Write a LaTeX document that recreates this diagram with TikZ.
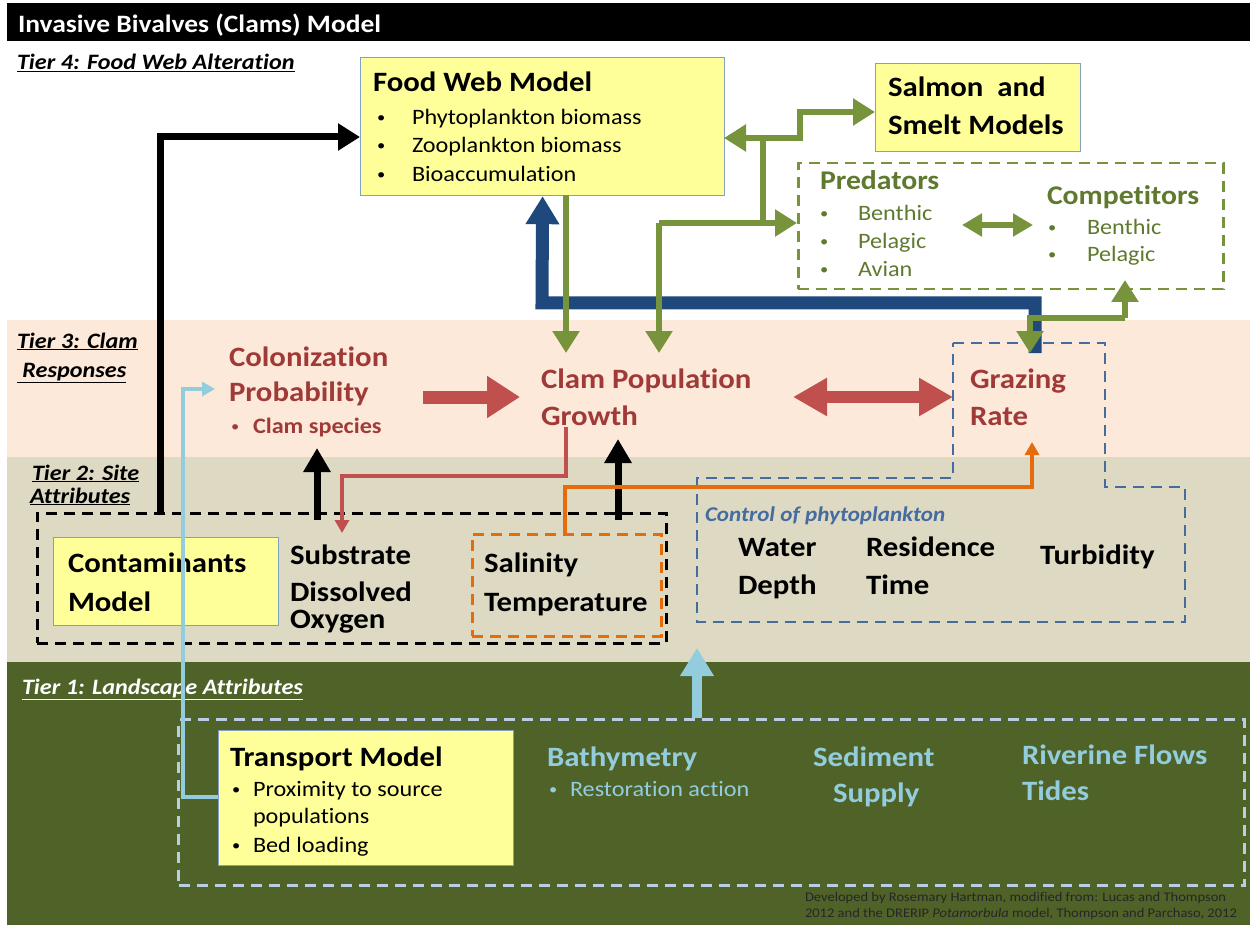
\documentclass[tikz,border=0pt]{standalone}
\usepackage{fontspec}
\setmainfont[FakeStretch=1.1, Ligatures=NoCommon]{Carlito}
\usetikzlibrary{arrows.meta}
\definecolor{boxyellow}{RGB}{255,255,153}
\definecolor{boxedge}{RGB}{130,160,195}
\definecolor{tierpink}{RGB}{253,233,217}
\definecolor{tiertan}{RGB}{221,217,195}
\definecolor{tiergreen}{RGB}{79,98,40}
\definecolor{cgreen}{RGB}{119,147,60}
\definecolor{gtext}{RGB}{95,122,46}
\definecolor{rtext}{RGB}{160,58,56}
\definecolor{rarrow}{RGB}{192,80,77}
\definecolor{navy}{RGB}{31,73,125}
\definecolor{bdash}{RGB}{68,108,160}
\definecolor{lblue}{RGB}{147,205,221}
\definecolor{lbdash}{RGB}{185,205,229}
\definecolor{corange}{RGB}{228,108,10}
\newcommand{\bul}{\raisebox{2pt}{\fontsize{15}{16}\selectfont •}}
\begin{document}
\begin{tikzpicture}[x=1pt,y=-1pt,
  lbl/.style={anchor=base west, inner sep=0pt, outer sep=0pt},
  hb/.style={lbl, font=\fontsize{28}{30}\selectfont\bfseries},
  hm/.style={lbl, font=\fontsize{27}{30}\selectfont\bfseries},
  bt/.style={lbl, font=\fontsize{22}{24}\selectfont},
  tierlbl/.style={lbl, font=\fontsize{22}{24}\selectfont\bfseries\itshape},
  ybox/.style={draw=boxedge, fill=boxyellow, line width=1.2pt, inner sep=0pt, anchor=north west},
  dbox/.style={line width=2.5pt, dash pattern=on 11pt off 7pt, inner sep=0pt, anchor=north west},
  gline/.style={draw=cgreen, line width=6pt},
  gtip/.style={-{Triangle[length=22pt,width=26pt]}},
  btip/.style={-{Triangle[length=24pt,width=26pt]}},
  thin/.style={line width=3.5pt},
  smalltip/.style={-{Triangle[length=13pt,width=14pt]}},
]
\useasboundingbox (0,0) rectangle (1250,925);
\fill[white] (0,0) rectangle (1250,925);
% bands
\fill[black] (7,3) rectangle (1250,41);
\fill[tierpink] (7,320) rectangle (1250,457);
\fill[tiertan] (7,457) rectangle (1250,662);
\fill[tiergreen] (7,662) rectangle (1250,925);

\node[lbl, text=white, font=\fontsize{25}{28}\selectfont\bfseries] (title) at (18,33) {Invasive Bivalves (Clams) Model};

% tier labels
\node[tierlbl] (t4) at (17,70) {\underline{Tier 4: Food Web Alteration}};
\node[tierlbl] (t3a) at (17,348) {\underline{Tier 3: Clam}};
\node[tierlbl] (t3b) at (17,377) {\underline{\ Responses}};
\node[tierlbl] (t2a) at (32,480) {\underline{Tier 2: Site}};
\node[tierlbl] (t2b) at (30,503) {\underline{Attributes}};
\node[tierlbl, text=white] (t1) at (22,694) {\underline{Tier 1: Landscape Attributes}};

% Food web model box
\node[ybox, minimum width=364pt, minimum height=138pt] (foodweb) at (360,57) {};
\node[hb] (fwt) at (373,92) {Food Web Model};
\node[bt] (fwb1) at (377,125) {\bul};
\node[bt] (fw1) at (412,125) {Phytoplankton biomass};
\node[bt] (fwb2) at (377,153) {\bul};
\node[bt] (fw2) at (412,153) {Zooplankton biomass};
\node[bt] (fwb3) at (377,182) {\bul};
\node[bt] (fw3) at (412,182) {Bioaccumulation};

% Salmon box
\node[ybox, minimum width=205pt, minimum height=88pt] (salmon) at (875,63) {};
\node[hb] (sal1) at (888,97) {Salmon\ \ and};
\node[hb] (sal2) at (888,135) {Smelt Models};

% Predators / competitors
\node[dbox, draw=cgreen, minimum width=425pt, minimum height=126pt] (predbox) at (797,162) {};
\node[hm, text=gtext] (pred) at (820,190) {Predators};
\node[bt, text=gtext] (pb1) at (820,221) {\bul};
\node[bt, text=gtext] (p1) at (858,221) {Benthic};
\node[bt, text=gtext] (pb2) at (820,249) {\bul};
\node[bt, text=gtext] (p2) at (858,249) {Pelagic};
\node[bt, text=gtext] (pb3) at (820,277) {\bul};
\node[bt, text=gtext] (p3) at (858,277) {Avian};
\node[hm, text=gtext] (comp) at (1047,205) {Competitors};
\node[bt, text=gtext] (cb1) at (1048,235) {\bul};
\node[bt, text=gtext] (c1) at (1087,235) {Benthic};
\node[bt, text=gtext] (cb2) at (1048,262) {\bul};
\node[bt, text=gtext] (c2) at (1087,262) {Pelagic};

% Tier 3
\node[hb, text=rtext] (col1) at (229,366) {Colonization};
\node[hb, text=rtext] (col2) at (229,401) {Probability};
\node[bt, text=rtext] (colb) at (231,433) {\bul};
\node[bt, text=rtext, font=\fontsize{22}{24}\selectfont\bfseries] (col3) at (253,433) {Clam species};
\node[hb, text=rtext] (cpg1) at (541,388) {Clam Population};
\node[hb, text=rtext] (cpg2) at (541,425) {Growth};
\node[hb, text=rtext] (gr1) at (970,388) {Grazing};
\node[hb, text=rtext] (gr2) at (970,425) {Rate};

% Tier 2
\node[dbox, draw=black, minimum width=629pt, minimum height=130pt] (sitebox) at (36,512) {};
\node[ybox, minimum width=225pt, minimum height=88pt] (contam) at (53,537) {};
\node[hb] (con1) at (68,572) {Contaminants};
\node[hb] (con2) at (68,611) {Model};
\node[hb] (sub1) at (290,564) {Substrate};
\node[hb] (sub2) at (290,601) {Dissolved};
\node[hb] (sub3) at (290,628) {Oxygen};
\node[dbox, draw=corange, minimum width=189pt, minimum height=102pt] (salbox) at (471,533) {};
\node[hb] (sal3) at (484,572) {Salinity};
\node[hb] (sal4) at (484,611) {Temperature};
\draw[bdash, line width=2.5pt, dash pattern=on 11pt off 7pt] (953,343) -- (1105,343) -- (1105,487) -- (1185,487) -- (1185,622) -- (697,622) -- (697,478) -- (953,478) -- cycle;
\node[lbl, text=bdash, font=\fontsize{21}{24}\selectfont\bfseries\itshape] (ctrl) at (705,521) {Control of phytoplankton};
\node[hb] (wd1) at (738,556) {Water};
\node[hb] (wd2) at (738,594) {Depth};
\node[hb] (rt1) at (866,556) {Residence};
\node[hb] (rt2) at (866,594) {Time};
\node[hb] (turb) at (1040,564) {Turbidity};

% Tier 1
\node[dbox, draw=lbdash, line width=3pt, minimum width=1066pt, minimum height=166pt] (landbox) at (177,718) {};
\node[ybox, minimum width=295pt, minimum height=135pt] (transport) at (218,730) {};
\node[hb] (tr) at (230,766) {Transport Model};
\node[bt] (trb1) at (232,796) {\bul};
\node[bt] (tr1) at (253,796) {Proximity to source};
\node[bt] (tr2) at (253,823) {populations};
\node[bt] (trb3) at (232,852) {\bul};
\node[bt] (tr3) at (253,852) {Bed loading};
\node[hb, text=lblue] (bath) at (547,766) {Bathymetry};
\node[bt, text=lblue] (bathb) at (549,796) {\bul};
\node[bt, text=lblue] (bath1) at (570,796) {Restoration action};
\node[hb, text=lblue] (sed1) at (813,766) {Sediment};
\node[hb, text=lblue] (sed2) at (833,802) {Supply};
\node[hb, text=lblue] (riv1) at (1022,764) {Riverine Flows};
\node[hb, text=lblue] (riv2) at (1022,800) {Tides};
\node[lbl, text=black!85, font=\fontsize{13.2}{15}\selectfont] (note1) at (805,901) {Developed by Rosemary Hartman, modified from: Lucas and Thompson};
\node[lbl, text=black!85, font=\fontsize{13.2}{15}\selectfont] (note2) at (805,917) {2012 and the DRERIP \textit{Potamorbula} model, Thompson and Parchaso, 2012};

% named attachment points
\coordinate (siteN) at (160,512);
\coordinate (fwW) at (360,137);
\coordinate (trW) at (218,797);
\coordinate (colW) at (215,389);
\coordinate (colS) at (317,448);
\coordinate (siteN2) at (317,520);
\coordinate (cpgS) at (618,439);
\coordinate (siteN3) at (618,520);
\coordinate (cpgBot) at (566,427);
\coordinate (subN) at (342,533);
\coordinate (salN) at (565,533);
\coordinate (grS) at (1032,442);
\coordinate (colE) at (423,397);
\coordinate (cpgW) at (520,397);
\coordinate (cpgE) at (793,397);
\coordinate (grW) at (953,397);
\coordinate (fwS2) at (566,195);
\coordinate (cpgN1) at (566,353);
\coordinate (cpgN2) at (659,353);
\coordinate (predW) at (797,223);
\coordinate (fwE) at (724,138);
\coordinate (salW) at (875,112);
\coordinate (predE) at (962,225);
\coordinate (compW) at (1033,225);
\coordinate (compS) at (1125,280);
\coordinate (grN) at (1030,353);
\coordinate (grN2) at (1035,353);
\coordinate (landN) at (697,718);
\coordinate (ctrlS) at (697,648);

% connectors
\draw[black, line width=7pt, -{Triangle[length=22pt,width=26pt]}] (siteN) -- (160,137) -- (fwW);
\draw[lblue, thin, smalltip] (trW) -- (183,797) -- (183,389) -- (colW);
\draw[black, line width=7pt, btip] (siteN2) -- (colS);
\draw[black, line width=7pt, btip] (siteN3) -- (cpgS);
\draw[rarrow, thin, smalltip] (cpgBot) -- (566,476) -- (342,476) -- (subN);
\draw[corange, thin, smalltip] (salN) -- (565,487) -- (1032,487) -- (grS);
\draw[rarrow, line width=13pt, -{Triangle[length=33pt,width=40pt]}] (colE) -- (cpgW);
\draw[rarrow, line width=12pt, {Triangle[length=34pt,width=36pt]}-{Triangle[length=34pt,width=36pt]}] (cpgE) -- (grW);
\draw[navy, line width=13pt, -{Triangle[length=28pt,width=32pt]}] (grN2) -- (1035,303) -- (542,303) -- (foodweb.south);
\draw[gline, gtip] (fwS2) -- (cpgN1);
\draw[gline, gtip] (659,223) -- (cpgN2);
\draw[gline, gtip] (659,223) -- (predW);
\draw[gline] (763,223) -- (763,138);
\draw[gline, gtip] (763,138) -- (fwE);
\draw[gline, gtip] (763,138) -- (800,138) -- (800,112) -- (salW);
\draw[gline, {Triangle[length=20pt,width=22pt]}-{Triangle[length=20pt,width=22pt]}] (predE) -- (compW);
\draw[gline, gtip] (1125,318) -- (compS);
\draw[gline, gtip] (1125,318) -- (1030,318) -- (grN);
\draw[lblue, line width=10pt, -{Triangle[length=28pt,width=32pt]}] (landN) -- (ctrlS);
\end{tikzpicture}
\end{document}
